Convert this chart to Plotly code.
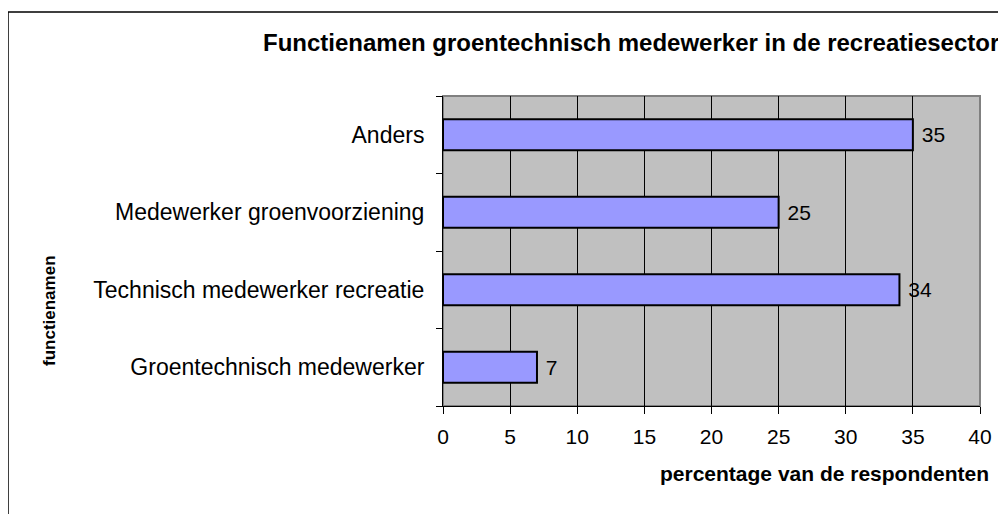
import plotly.graph_objects as go

categories = ["Groentechnisch medewerker", "Technisch medewerker recreatie",
              "Medewerker groenvoorziening", "Anders"]
values = [7, 34, 25, 35]
x_ticks = [0, 5, 10, 15, 20, 25, 30, 35, 40]

title_text = "Functienamen groentechnisch medewerker in de recreatiesector"
x_title = "percentage van de respondenten"
y_title = "functienamen"

OFF = 8  # page body margin
W, H = 1006, 514
L, T = 443 - OFF, 96 - OFF
R = W - (980 - OFF)
B = H - (406 - OFF)
pw, ph = W - L - R, H - T - B

def px(x):
    return (x - OFF - L) / pw

def py(y):
    return (H - B - (y - OFF)) / ph

font = "Liberation Sans, Arial, sans-serif"

fig = go.Figure()
fig.add_trace(go.Bar(
    y=categories, x=values, orientation="h",
    width=0.4,
    marker=dict(color="#9999FF", line=dict(color="black", width=2)),
    text=values, texttemplate=" %{x}", textposition="outside",
    textfont=dict(family=font, size=21, color="black"),
    cliponaxis=False,
))

fig.update_layout(
    width=W, height=H,
    margin=dict(l=L, r=R, t=T, b=B),
    paper_bgcolor="white", plot_bgcolor="#C0C0C0",
    showlegend=False,
    font=dict(family=font, color="black"),
    xaxis=dict(range=[0, 40], tickvals=x_ticks, ticks="outside", ticklen=7,
               tickcolor="black", showline=True, linecolor="black", linewidth=1,
               showgrid=True, gridcolor="black", gridwidth=1, zeroline=False,
               tickfont=dict(size=21, family=font), ticklabelstandoff=5,
               fixedrange=True),
    yaxis=dict(categoryorder="array", categoryarray=categories,
               tickson="boundaries", ticks="outside", ticklen=6, tickcolor="black",
               showline=True, linecolor="black", linewidth=1, showgrid=False,
               tickfont=dict(size=23, family=font), ticklabelstandoff=13,
               fixedrange=True),
    shapes=[
        dict(type="rect", xref="paper", yref="paper", x0=0, x1=1, y0=0, y1=1,
             line=dict(color="#808080", width=2), layer="below"),
        dict(type="rect", xref="paper", yref="paper",
             x0=px(8), x1=px(1030), y0=py(540), y1=py(12),
             line=dict(color="black", width=1.5)),
    ],
    annotations=[
        dict(text="<b>" + title_text + "</b>", xref="paper", yref="paper",
             x=px(631), y=py(42), xanchor="center", yanchor="middle",
             showarrow=False, font=dict(size=24, family=font)),
        dict(text="<b>" + x_title + "</b>", xref="paper", yref="paper",
             x=px(824), y=py(473), xanchor="center", yanchor="middle",
             showarrow=False, font=dict(size=21, family=font)),
        dict(text="<b>" + y_title + "</b>", xref="paper", yref="paper",
             x=px(49), y=py(311), xanchor="center", yanchor="middle",
             textangle=-90, showarrow=False, font=dict(size=17, family=font)),
    ],
)

fig.write_html("out.html")
